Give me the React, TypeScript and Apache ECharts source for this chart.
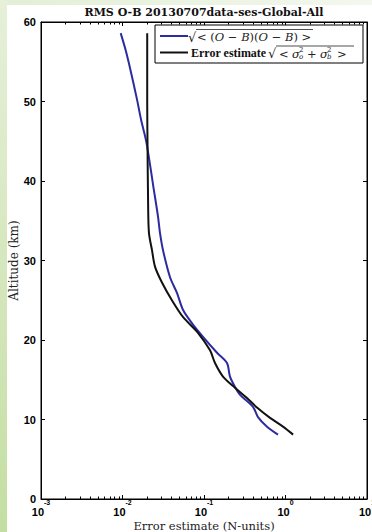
import React, { useEffect, useRef } from "react";
import * as echarts from "echarts";

// Blue curve: sqrt(<(O-B)(O-B)>)
const altitudeOB = [58.6, 56.5, 54.0, 50.2, 47.7, 44.8, 39.3, 35.5, 33.5, 31.3, 27.9, 25.9, 23.8, 22.1, 20.4, 18.4, 17.1, 15.4, 14.1, 13.1, 11.6, 10.3, 9.1, 8.1];
const rmsOB = [0.0095, 0.0109, 0.0125, 0.0151, 0.0169, 0.0197, 0.0239, 0.0273, 0.0288, 0.0314, 0.0383, 0.0467, 0.0552, 0.0713, 0.0973, 0.1445, 0.1914, 0.2085, 0.24, 0.277, 0.399, 0.46, 0.593, 0.809];

// Black curve: error estimate sqrt(<so^2 + sb^2>)
const altitudeErr = [58.6, 50.0, 43.9, 37.6, 33.5, 31.3, 29.2, 27.2, 25.0, 22.9, 20.9, 18.7, 17.1, 15.4, 14.0, 12.7, 11.5, 10.2, 9.1, 8.1];
const errEstimate = [0.0201, 0.0201, 0.0203, 0.0206, 0.0211, 0.023, 0.0251, 0.0306, 0.0404, 0.0552, 0.0843, 0.1186, 0.1365, 0.171, 0.24, 0.337, 0.447, 0.646, 0.931, 1.24];

const xMin = 0.001;
const xMax = 10;
const titleText = "RMS O-B 20130707data-ses-Global-All";
const xName = "Error estimate (N-units)";
const yName = "Altitude (km)";

const BLUE = "#2c2ca0";
const BLACK = "#111111";

const minorLog: number[] = [];
for (let d = -3; d < 1; d++) {
  for (let m = 2; m <= 9; m++) minorLog.push(d + Math.log10(m));
}

export default function App() {
  const ref = useRef<HTMLDivElement>(null);
  useEffect(() => {
    if (!ref.current) return;
    const chart = echarts.init(ref.current, undefined, { renderer: "svg" });
    const serif = "DejaVu Serif";
    const tickBase = { show: true, inside: true, lineStyle: { color: "#000", width: 1 } };
    const lineOn = { show: true, onZero: false, lineStyle: { color: "#000", width: 1 } };
    const lineOff = { show: false, onZero: false };
    const option: any = {
      animation: false,
      grid: { left: 41, top: 22, width: 326, height: 477, show: true, borderColor: "#000", borderWidth: 1, backgroundColor: "#fff", containLabel: false, outerBoundsMode: "none" },
      xAxis: [
        {
          type: "log", logBase: 10, min: xMin, max: xMax, position: "bottom",
          axisLine: lineOn,
          axisTick: { ...tickBase, length: 4 },
          splitLine: { show: false },
          name: xName, nameLocation: "middle", nameGap: 21, nameMoveOverlap: false,
          nameTextStyle: { fontFamily: serif, fontSize: 11.5, lineHeight: 11, color: "#222" },
          axisLabel: {
            margin: 0,
            formatter: (v: number) => `{b|10}{s|${Math.round(Math.log10(v))}}`,
            rich: {
              b: { fontSize: 11, fontWeight: "bold", fontFamily: "Liberation Sans", color: "#000", lineHeight: 18, verticalAlign: "bottom" },
              s: { fontSize: 7, fontWeight: "bold", fontFamily: "Liberation Sans", color: "#000", verticalAlign: "top" },
            },
          },
        },
        {
          type: "value", min: -3, max: 1, position: "bottom",
          axisLine: lineOff, axisLabel: { show: false }, splitLine: { show: false },
          axisTick: { ...tickBase, length: 2.5, customValues: minorLog },
        },
        {
          type: "value", min: -3, max: 1, interval: 1, position: "top",
          axisLine: lineOn, axisLabel: { show: false }, splitLine: { show: false },
          axisTick: { ...tickBase, length: 4 },
        },
        {
          type: "value", min: -3, max: 1, position: "top",
          axisLine: lineOff, axisLabel: { show: false }, splitLine: { show: false },
          axisTick: { ...tickBase, length: 2.5, customValues: minorLog },
        },
      ],
      yAxis: [
        {
          type: "value", min: 0, max: 60, interval: 10, position: "left",
          axisLine: lineOn,
          axisTick: { ...tickBase, length: 4 },
          splitLine: { show: false },
          axisLabel: { margin: 5, fontSize: 11, fontWeight: "bold", fontFamily: "Liberation Sans", color: "#000" },
          name: yName, nameLocation: "middle", nameGap: 21, nameMoveOverlap: false,
          nameTextStyle: { fontFamily: serif, fontSize: 12, color: "#222" },
        },
        {
          type: "value", min: 0, max: 60, interval: 10, position: "right",
          axisLine: lineOn,
          axisTick: { ...tickBase, length: 4 },
          splitLine: { show: false }, axisLabel: { show: false },
        },
      ],
      series: [
        {
          type: "line", xAxisIndex: 0, yAxisIndex: 0, symbol: "none", smooth: 0.3,
          lineStyle: { color: BLUE, width: 2 },
          data: rmsOB.map((v, i) => [v, altitudeOB[i]]),
        },
        {
          type: "line", xAxisIndex: 0, yAxisIndex: 0, symbol: "none", smooth: 0.3,
          lineStyle: { color: BLACK, width: 2 },
          data: errEstimate.map((v, i) => [v, altitudeErr[i]]),
        },
      ],
      graphic: [
        { type: "text", x: 204, y: 12, z: 100, style: { text: titleText, font: `bold 11px "${serif}"`, fill: "#111", align: "center", verticalAlign: "middle" } },
        { type: "rect", z: 100, shape: { x: 155, y: 25, width: 208, height: 38 }, style: { fill: "#fff", stroke: "#000", lineWidth: 1 } },
        { type: "line", z: 101, shape: { x1: 160, y1: 36, x2: 188, y2: 36 }, style: { stroke: BLUE, lineWidth: 2 } },
        { type: "line", z: 101, shape: { x1: 160, y1: 52.5, x2: 188, y2: 52.5 }, style: { stroke: BLACK, lineWidth: 2 } },
        // blue label
        { type: "text", z: 101, x: 188, y: 37, style: { text: "√", font: `13px "${serif}"`, fill: "#222", verticalAlign: "middle" } },
        { type: "line", z: 101, shape: { x1: 196, y1: 29.5, x2: 313, y2: 29.5 }, style: { stroke: "#222", lineWidth: 0.8 } },
        {
          type: "text", z: 101, x: 197, y: 37,
          style: {
            text: "{u|< (}{i|O}{u| − }{i|B}{u|)(}{i|O}{u| − }{i|B}{u|) >}",
            verticalAlign: "middle",
            rich: {
              u: { fontFamily: serif, fontSize: 11.5, fill: "#222" },
              i: { fontFamily: serif, fontSize: 11.5, fontStyle: "italic", fill: "#222" },
            },
          },
        },
        // black label
        { type: "text", z: 101, x: 191, y: 53, style: { text: "Error estimate", font: `bold 12px "Liberation Serif"`, fill: "#111", verticalAlign: "middle" } },
        { type: "text", z: 101, x: 268, y: 53.5, style: { text: "√", font: `13px "${serif}"`, fill: "#222", verticalAlign: "middle" } },
        { type: "line", z: 101, shape: { x1: 276, y1: 46, x2: 354, y2: 46 }, style: { stroke: "#222", lineWidth: 0.8 } },
        { type: "text", z: 101, x: 279, y: 53.5, style: { text: "<", font: `11.5px "${serif}"`, fill: "#222", verticalAlign: "middle" } },
        { type: "text", z: 101, x: 292, y: 53.5, style: { text: "σ", font: `italic 11.5px "${serif}"`, fill: "#222", verticalAlign: "middle" } },
        { type: "text", z: 101, x: 299, y: 49.5, style: { text: "2", font: `7px "${serif}"`, fill: "#222", verticalAlign: "middle" } },
        { type: "text", z: 101, x: 299, y: 57, style: { text: "o", font: `italic 7px "${serif}"`, fill: "#222", verticalAlign: "middle" } },
        { type: "text", z: 101, x: 307, y: 53.5, style: { text: "+", font: `11.5px "${serif}"`, fill: "#222", verticalAlign: "middle" } },
        { type: "text", z: 101, x: 320, y: 53.5, style: { text: "σ", font: `italic 11.5px "${serif}"`, fill: "#222", verticalAlign: "middle" } },
        { type: "text", z: 101, x: 327, y: 49.5, style: { text: "2", font: `7px "${serif}"`, fill: "#222", verticalAlign: "middle" } },
        { type: "text", z: 101, x: 327, y: 57, style: { text: "b", font: `italic 7px "${serif}"`, fill: "#222", verticalAlign: "middle" } },
        { type: "text", z: 101, x: 337, y: 53.5, style: { text: ">", font: `11.5px "${serif}"`, fill: "#222", verticalAlign: "middle" } },
      ],
    };
    chart.setOption(option);
    return () => chart.dispose();
  }, []);

  return (
    <div style={{ position: "absolute", left: 0, top: 0, width: 372, height: 532, background: "#fff", overflow: "hidden" }}>
      <div style={{ position: "absolute", left: 0, top: 0, width: 372, height: 5, background: "linear-gradient(to right, #e3eed6, #f3f8ee)" }} />
      <div style={{ position: "absolute", left: 0, top: 0, width: 7, height: 532, background: "linear-gradient(to bottom, #e6f0da, #c4dea2)" }} />
      <div ref={ref} style={{ position: "absolute", left: 0, top: 0, width: 372, height: 532 }} />
    </div>
  );
}
